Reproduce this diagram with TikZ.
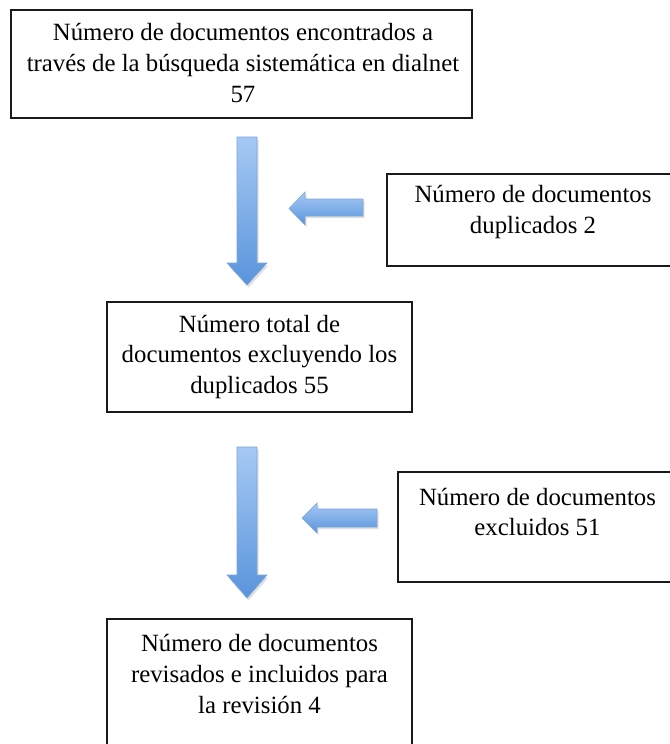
\documentclass[tikz,border=0pt]{standalone}
\usepackage{fontspec}
\setmainfont{Liberation Serif}
\usetikzlibrary{fit,calc}
\definecolor{arrtop}{HTML}{A6C9F4}
\definecolor{arrbot}{HTML}{5994DB}
\definecolor{arredge}{HTML}{7AA6DA}
\begin{document}
\begin{tikzpicture}[x=0.75pt,y=-0.75pt,
  box/.style={draw=black!90, line width=1.4pt, inner sep=0pt, rectangle},
  txt/.style={align=center, inner sep=0pt, font=\fontsize{18.6}{23.2}\selectfont},
  arrfill/.style={top color=arrtop, bottom color=arrbot, draw=arredge, line width=0.4pt},
  arrshadow/.style={fill=black, opacity=0.12, draw=none}]
\useasboundingbox (0,0) rectangle (670,744);
% boxes
\node[box, fit={(11,10) (472,118)}] (b1) {};
\node[box, fit={(387,174) (680,266)}] (b2) {};
\node[box, fit={(107,302) (412,412)}] (b3) {};
\node[box, fit={(398,472) (677,582)}] (b4) {};
\node[box, fit={(107,619) (412,770)}] (b5) {};
% texts
\node[txt] (t1) at (243,63) {Número de documentos encontrados a\\través de la búsqueda sistemática en dialnet\\57};
\node[txt] (t2) at (533,212) {Número de documentos\\duplicados 2};
\node[txt] (t3) at (259.5,357) {Número total de\\documentos excluyendo los\\duplicados 55};
\node[txt] (t4) at (537.5,512) {Número de documentos\\excluidos 51};
\node[txt] (t5) at (259.5,674) {Número de documentos\\revisados e incluidos para\\la revisión 4};
% down arrow 1
\path[arrshadow] (238.5,139.5) -- (258.5,139.5) -- (258.5,265.5) -- (268.5,265.5) -- (248.5,287.5) -- (228.5,265.5) -- (238.5,265.5) -- cycle;
\path[arrfill] (237,137) -- (257,137) -- (257,263) -- (267,263) -- (247,285) -- (227,263) -- (237,263) -- cycle;
% left arrow 1
\path[arrshadow] (364.5,201) -- (306.5,201) -- (306.5,194) -- (290.5,210.5) -- (306.5,227) -- (306.5,218) -- (364.5,218) -- cycle;
\path[arrfill] (363,199) -- (305,199) -- (305,192) -- (289,208.5) -- (305,225) -- (305,216) -- (363,216) -- cycle;
% down arrow 2
\path[arrshadow] (238.5,449.5) -- (258.5,449.5) -- (258.5,577.5) -- (268.5,577.5) -- (248.5,600.5) -- (228.5,577.5) -- (238.5,577.5) -- cycle;
\path[arrfill] (237,447) -- (257,447) -- (257,575) -- (267,575) -- (247,598) -- (227,575) -- (237,575) -- cycle;
% left arrow 2
\path[arrshadow] (378.5,511) -- (318.5,511) -- (318.5,505) -- (303.5,520) -- (318.5,535) -- (318.5,529) -- (378.5,529) -- cycle;
\path[arrfill] (377,509) -- (317,509) -- (317,503) -- (302,518) -- (317,533) -- (317,527) -- (377,527) -- cycle;
\end{tikzpicture}
\end{document}
